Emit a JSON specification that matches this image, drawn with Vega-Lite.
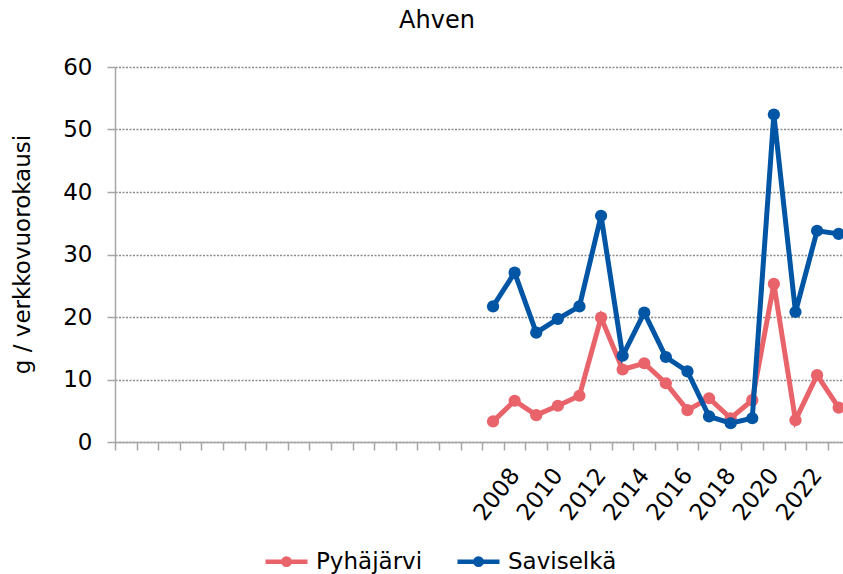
{
  "$schema": "https://vega.github.io/schema/vega-lite/v6.json",
  "autosize": {"type": "none"},
  "width": 728,
  "height": 375,
  "padding": {"left": 115, "top": 67, "right": 0, "bottom": 132},
  "background": "white",
  "title": {
    "text": "Ahven",
    "font": "DejaVu Sans",
    "fontSize": 24,
    "fontWeight": "normal",
    "color": "#000000",
    "anchor": "middle",
    "frame": "group",
    "dx": -42,
    "baseline": "alphabetic",
    "offset": 4
  },
  "config": {
    "view": {"stroke": null},
    "font": "DejaVu Sans"
  },
  "data": {
    "values": [
      {"year": 2007, "site": "Pyhäjärvi", "value": 3.3},
      {"year": 2008, "site": "Pyhäjärvi", "value": 6.6},
      {"year": 2009, "site": "Pyhäjärvi", "value": 4.3},
      {"year": 2010, "site": "Pyhäjärvi", "value": 5.8},
      {"year": 2011, "site": "Pyhäjärvi", "value": 7.4},
      {"year": 2012, "site": "Pyhäjärvi", "value": 19.9},
      {"year": 2013, "site": "Pyhäjärvi", "value": 11.6},
      {"year": 2014, "site": "Pyhäjärvi", "value": 12.6},
      {"year": 2015, "site": "Pyhäjärvi", "value": 9.4},
      {"year": 2016, "site": "Pyhäjärvi", "value": 5.1},
      {"year": 2017, "site": "Pyhäjärvi", "value": 7.0},
      {"year": 2018, "site": "Pyhäjärvi", "value": 3.8},
      {"year": 2019, "site": "Pyhäjärvi", "value": 6.7},
      {"year": 2020, "site": "Pyhäjärvi", "value": 25.3},
      {"year": 2021, "site": "Pyhäjärvi", "value": 3.5},
      {"year": 2022, "site": "Pyhäjärvi", "value": 10.7},
      {"year": 2023, "site": "Pyhäjärvi", "value": 5.5},
      {"year": 2007, "site": "Saviselkä", "value": 21.7},
      {"year": 2008, "site": "Saviselkä", "value": 27.1},
      {"year": 2009, "site": "Saviselkä", "value": 17.5},
      {"year": 2010, "site": "Saviselkä", "value": 19.7},
      {"year": 2011, "site": "Saviselkä", "value": 21.7},
      {"year": 2012, "site": "Saviselkä", "value": 36.2},
      {"year": 2013, "site": "Saviselkä", "value": 13.8},
      {"year": 2014, "site": "Saviselkä", "value": 20.7},
      {"year": 2015, "site": "Saviselkä", "value": 13.6},
      {"year": 2016, "site": "Saviselkä", "value": 11.3},
      {"year": 2017, "site": "Saviselkä", "value": 4.1},
      {"year": 2018, "site": "Saviselkä", "value": 3.0},
      {"year": 2019, "site": "Saviselkä", "value": 3.8},
      {"year": 2020, "site": "Saviselkä", "value": 52.4},
      {"year": 2021, "site": "Saviselkä", "value": 20.8},
      {"year": 2022, "site": "Saviselkä", "value": 33.8},
      {"year": 2023, "site": "Saviselkä", "value": 33.3}
    ]
  },
  "encoding": {
    "x": {
      "field": "year",
      "type": "quantitative",
      "scale": {"domain": [1989.5, 2023.2], "nice": false, "zero": false},
      "axis": {
        "title": null,
        "values": [1989.5, 1990.5, 1991.5, 1992.5, 1993.5, 1994.5, 1995.5, 1996.5, 1997.5, 1998.5, 1999.5, 2000.5, 2001.5, 2002.5, 2003.5, 2004.5, 2005.5, 2006.5, 2007.5, 2008.5, 2009.5, 2010.5, 2011.5, 2012.5, 2013.5, 2014.5, 2015.5, 2016.5, 2017.5, 2018.5, 2019.5, 2020.5, 2021.5, 2022.5],
        "labelExpr": "(datum.value >= 2007 && (datum.value + 0.5) % 2 == 0) ? format(datum.value + 0.5, 'd') : ''",
        "labelOffset": 10.8,
        "labelAngle": -52,
        "labelAlign": "right",
        "labelBaseline": "middle",
        "labelFontSize": 23,
        "labelColor": "#000000",
        "labelPadding": 21,
        "labelOverlap": false,
        "labelFlush": false,
        "labelBound": false,
        "grid": false,
        "tickSize": 8,
        "tickColor": "#a6a6a6",
        "tickWidth": 1.5,
        "domainColor": "#a6a6a6",
        "domainWidth": 1.5
      }
    },
    "y": {
      "field": "value",
      "type": "quantitative",
      "scale": {"domain": [0, 60], "nice": false},
      "axis": {
        "title": "g / verkkovuorokausi",
        "titleFontSize": 23,
        "titleFontWeight": "normal",
        "titleColor": "#000000",
        "titleX": -93,
        "titleY": 187,
        "titleAlign": "center",
        "titleBaseline": "middle",
        "titleAngle": 270,
        "values": [0, 10, 20, 30, 40, 50, 60],
        "labelFontSize": 23,
        "labelColor": "#000000",
        "labelPadding": 15,
        "tickSize": 8,
        "tickColor": "#a6a6a6",
        "tickWidth": 1.5,
        "domainColor": "#a6a6a6",
        "domainWidth": 1.5,
        "grid": true,
        "gridColor": "#8c8c8c",
        "gridDash": [2, 1.5],
        "gridWidth": 1.3
      }
    },
    "color": {
      "field": "site",
      "type": "nominal",
      "scale": {"domain": ["Pyhäjärvi", "Saviselkä"], "range": ["#E9636A", "#0055A5"]},
      "legend": {
        "title": null,
        "orient": "none",
        "direction": "horizontal",
        "legendX": 148,
        "legendY": 471,
        "symbolType": "M-1,0L1,0M-0.15,0a0.15,0.15 0 1,0 0.3,0a0.15,0.15 0 1,0 -0.3,0M-0.06,0a0.06,0.06 0 1,0 0.12,0a0.06,0.06 0 1,0 -0.12,0",
        "symbolSize": 1764,
        "symbolStrokeWidth": 4.5,
        "labelFontSize": 23,
        "labelColor": "#000000",
        "labelOffset": 6,
        "columnPadding": 25
      }
    }
  },
  "layer": [
    {"transform": [{"filter": "datum.site == 'Pyhäjärvi'"}], "mark": {"type": "line", "strokeWidth": 5}},
    {"transform": [{"filter": "datum.site == 'Pyhäjärvi'"}], "mark": {"type": "point", "filled": true, "size": 150, "opacity": 1, "shape": "circle"}},
    {"transform": [{"filter": "datum.site == 'Saviselkä'"}], "mark": {"type": "line", "strokeWidth": 5}},
    {"transform": [{"filter": "datum.site == 'Saviselkä'"}], "mark": {"type": "point", "filled": true, "size": 150, "opacity": 1, "shape": "circle"}}
  ]
}
